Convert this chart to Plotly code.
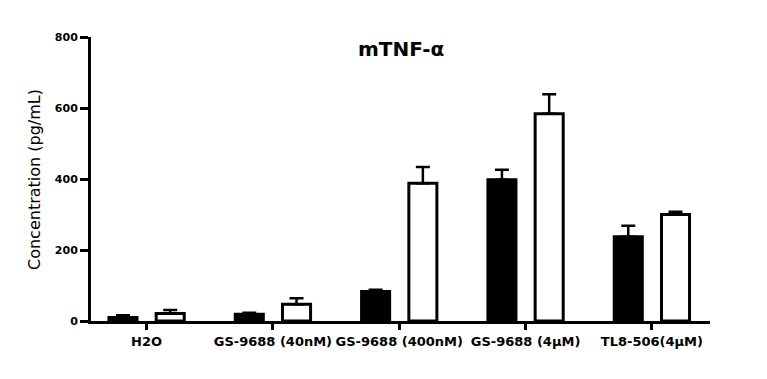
import plotly.graph_objects as go

categories = ["H2O", "GS-9688 (40nM)", "GS-9688 (400nM)", "GS-9688 (4μM)", "TL8-506(4μM)"]
black_values = [10, 19, 83, 398, 237]
black_errors = [6, 4, 5, 28, 31]
white_values = [21, 47, 388, 584, 300]
white_errors = [10, 17, 46, 55, 8]
y_ticks = [0, 200, 400, 600, 800]

x_idx = list(range(len(categories)))
FONT = "DejaVu Sans"

# page body has an 8px margin; compensate so the plot lands where the reference has it
OFF = 8
L, R, T, B = 91 - OFF, 57 + OFF, 37 - OFF, 58 + OFF
W, H = 767, 379
pw, ph = W - L - R, H - T - B

fig = go.Figure()
fig.add_trace(go.Bar(
    x=x_idx, y=black_values, width=0.222, offset=-0.298,
    marker=dict(color="black", line=dict(color="black", width=3)),
    error_y=dict(type="data", array=black_errors, arrayminus=[0]*len(black_errors),
                 symmetric=False, color="black", thickness=2.5, width=7),
    showlegend=False,
))
fig.add_trace(go.Bar(
    x=x_idx, y=white_values, width=0.222, offset=0.076,
    marker=dict(color="white", line=dict(color="black", width=3)),
    error_y=dict(type="data", array=white_errors, arrayminus=[0]*len(white_errors),
                 symmetric=False, color="black", thickness=2.5, width=7),
    showlegend=False,
))

fig.update_layout(
    width=W, height=H,
    margin=dict(l=L, r=R, t=T, b=B),
    paper_bgcolor="white", plot_bgcolor="white",
    barmode="overlay",
    xaxis=dict(
        range=[-0.44, 4.46], tickmode="array", tickvals=x_idx, ticktext=categories,
        showline=True, linecolor="black", linewidth=3,
        ticks="outside", ticklen=6, tickwidth=2.5, tickcolor="black",
        showgrid=False, zeroline=False,
        tickfont=dict(family=FONT, size=13, color="black", weight="bold"),
    ),
    yaxis=dict(
        range=[0, 800], tickmode="array", tickvals=y_ticks,
        showline=True, linecolor="black", linewidth=3,
        ticks="outside", ticklen=8, tickwidth=3, tickcolor="black",
        showgrid=False, zeroline=False,
        tickfont=dict(family=FONT, size=11, color="black", weight="bold"),
    ),
    annotations=[
        dict(text="mTNF-α", xref="paper", yref="paper", x=0.5, y=(ph - (49 - 37)) / ph,
             xanchor="center", yanchor="middle", showarrow=False,
             font=dict(family=FONT, size=20, color="black", weight="bold")),
        dict(text="Concentration (pg/mL)", xref="paper", yref="paper",
             x=(34 - 91) / pw, y=(321 - 180) / ph, xanchor="center", yanchor="middle",
             textangle=-90, showarrow=False,
             font=dict(family=FONT, size=16, color="black")),
    ],
)

fig.write_html("out.html")
